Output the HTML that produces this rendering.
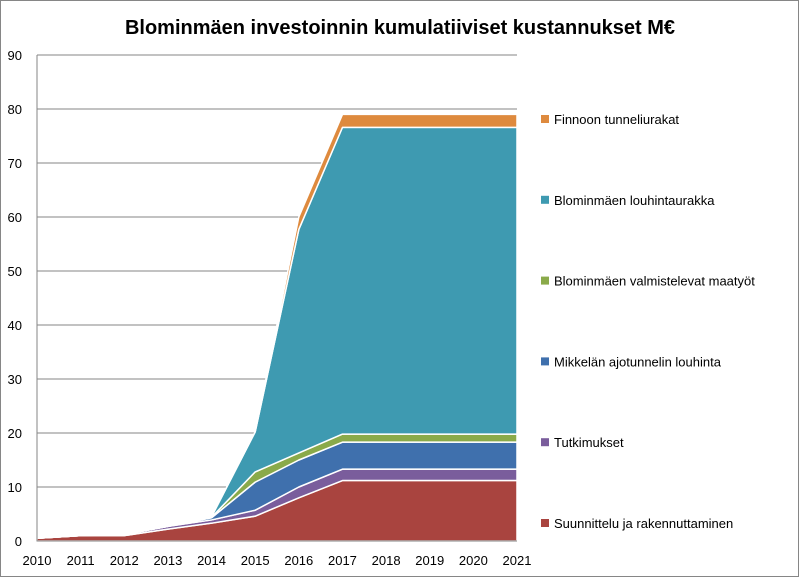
<!DOCTYPE html>
<html><head><meta charset="utf-8"><style>
body{margin:0;background:#fff}
svg{display:block;font-family:"Liberation Sans",Calibri,sans-serif}
</style></head><body>
<svg id="c" width="799" height="577">
<rect x="0.5" y="0.5" width="798" height="576" fill="#fff" stroke="#868686"/>
<text x="400" y="34" text-anchor="middle" font-size="20" font-weight="bold">Blominmäen investoinnin kumulatiiviset  kustannukset M€</text>
<g id="grid"></g><g id="areas"></g><g id="axes"></g><g id="legend"></g>
</svg>
<script>
const years=["2010","2011","2012","2013","2014","2015","2016","2017","2018","2019","2020","2021"];
const yTicks=[0,10,20,30,40,50,60,70,80,90];
const seriesNames=["Suunnittelu ja rakennuttaminen","Tutkimukset","Mikkelän ajotunnelin louhinta","Blominmäen valmistelevat maatyöt","Blominmäen louhintaurakka","Finnoon tunneliurakat"];
const colors=["#a9443f","#7a5d9c","#3f70ad","#8aaa4a","#3e9ab1","#de8a3e"];
const suunnittelu=[0.5,1,1,2.2,3.3,4.6,8,11.2,11.2,11.2,11.2,11.2];
const tutkimukset=[0,0,0.2,0.5,0.6,1.1,2,2.1,2.1,2.1,2.1,2.1];
const mikkela=[0,0,0,0,0.4,5.2,5,5,5,5,5,5];
const maatyot=[0,0,0,0,0.1,1.9,1.3,1.5,1.5,1.5,1.5,1.5];
const louhinta=[0,0,0,0,0.1,7.4,41.4,56.8,56.8,56.8,56.8,56.8];
const finnoo=[0,0,0,0,0,0,2.3,2.4,2.4,2.4,2.4,2.4];
const series=[suunnittelu,tutkimukset,mikkela,maatyot,louhinta,finnoo];
const NS="http://www.w3.org/2000/svg";
const X0=37,X1=517,Y0=541,YT=55;
const xs=i=>X0+i*(X1-X0)/(years.length-1);
const ys=v=>Y0-v*(Y0-YT)/90;
function mk(t,a,p){const e=document.createElementNS(NS,t);for(const k in a)e.setAttribute(k,a[k]);p.appendChild(e);return e;}
const grid=document.getElementById('grid'),areas=document.getElementById('areas'),axes=document.getElementById('axes'),legend=document.getElementById('legend');
yTicks.forEach(t=>{
 if(t>0){const l=mk('line',{x1:X0,x2:X1,y1:ys(t),y2:ys(t),stroke:'#868686'},grid);
 
 }
 const tx=mk('text',{x:22,y:ys(t)+5,'text-anchor':'end','font-size':13},axes);tx.textContent=t;
 
 
});
years.forEach((y,i)=>{const tx=mk('text',{x:xs(i),y:565,'text-anchor':'middle','font-size':13},axes);tx.textContent=y;
 
 });
let base=years.map(()=>0);
series.forEach((s,k)=>{
 const top=base.map((b,i)=>b+s[i]);
 let d='M'+years.map((_,i)=>xs(i)+','+ys(top[i])).join('L');
 for(let i=years.length-1;i>=0;i--)d+='L'+xs(i)+','+ys(base[i]);
 const p=mk('path',{d:d+'Z',fill:colors[k],stroke:'#fff','stroke-width':1.5,'stroke-linejoin':'round'},areas);
 
 
 base=top;
 const ly=523-k*80.8;
 const m=mk('rect',{x:541,y:ly-4,width:8,height:8,fill:colors[k]},legend);
 
 
 const lt=mk('text',{x:554,y:ly+5,'font-size':13},legend);lt.textContent=seriesNames[k];
 
 
});
const ax=mk('path',{d:`M${X0},${YT}V${Y0}H${X1}`,fill:'none',stroke:'#868686'},axes);


</script>
</body></html>
